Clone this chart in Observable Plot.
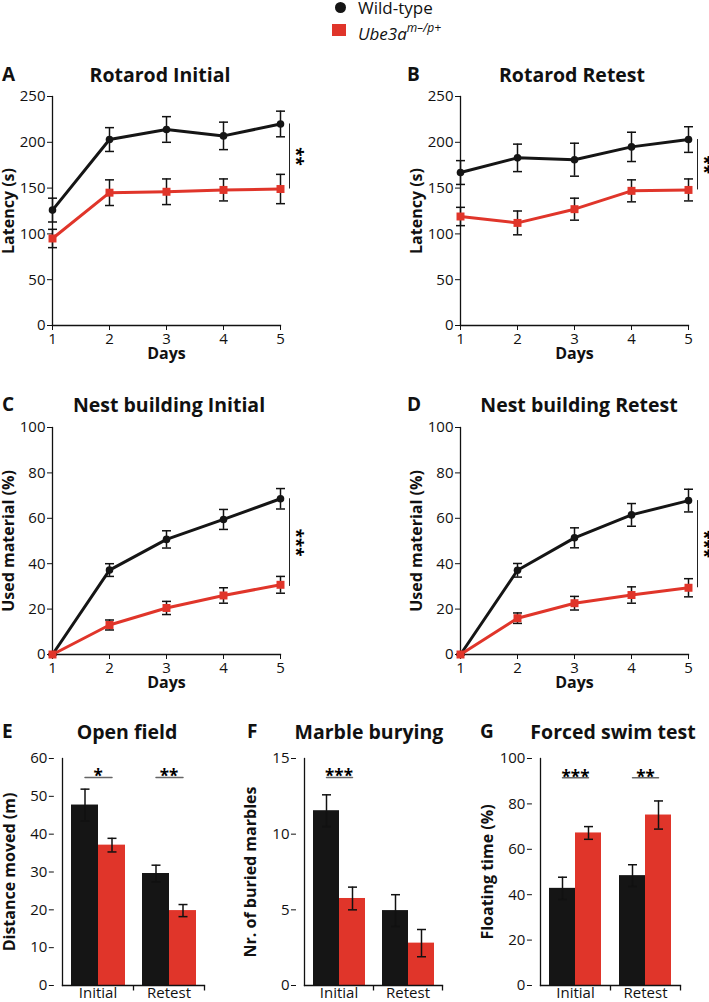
<!DOCTYPE html>
<html><head><meta charset="utf-8">
<script src="https://cdn.jsdelivr.net/npm/d3@7"></script>
<script src="https://cdn.jsdelivr.net/npm/@observablehq/plot@0.6"></script>
<style>
body{margin:0;background:#fff;}
#root{position:relative;width:709px;height:1002px;font-family:"Open Sans",sans-serif;color:#111;overflow:hidden;background:#fff;}
.panel{position:absolute;}
.title{position:absolute;font-weight:bold;font-size:19.5px;transform:translate(-50%,-50%);white-space:nowrap;}
.letter{position:absolute;font-weight:bold;font-size:19px;transform:translateY(-50%);}
.leg{position:absolute;font-size:17px;white-space:nowrap;line-height:20px;}
svg g[aria-label="y-axis label"], svg g[aria-label="x-axis label"]{font-weight:bold;font-size:16px;}
svg g[aria-label="fx-axis tick label"]{font-size:15px;}
</style></head><body><div id="root"></div>
<script>
// ---------- data ----------
const days = [1, 2, 3, 4, 5];
const phases = ["Initial", "Retest"];
const groups = ["Wild-type", "Ube3a"];

// A Rotarod Initial (s)
const rotInitWT = [126, 203, 214, 207, 220];
const rotInitWTerr = [13, 13, 14, 15, 14];
const rotInitUb = [95, 145, 146, 148, 149];
const rotInitUberr = [10, 14, 14, 12, 16];
// B Rotarod Retest (s)
const rotRetWT = [167, 183, 181, 195, 203];
const rotRetWTerr = [13, 15, 18, 16, 14];
const rotRetUb = [119, 112, 127, 147, 148];
const rotRetUberr = [10, 13, 12, 12, 12];
// C Nest building Initial (%)
const nestInitWT = [0, 37.2, 50.7, 59.5, 68.6];
const nestInitWTerr = [0, 2.8, 3.8, 4.4, 4.5];
const nestInitUb = [0, 13, 20.5, 26, 30.7];
const nestInitUberr = [0, 2.2, 2.9, 3.4, 3.7];
// D Nest building Retest (%)
const nestRetWT = [0, 37.1, 51.4, 61.5, 67.8];
const nestRetWTerr = [0, 3, 4.4, 5, 5];
const nestRetUb = [0, 16, 22.6, 26.2, 29.4];
const nestRetUberr = [0, 2.3, 3, 3.6, 4];
// E Open field (m)
const openWT = [47.7, 29.6];
const openWTerr = [4.2, 2.2];
const openUb = [37.1, 19.8];
const openUberr = [1.8, 1.6];
// F Marble burying
const marbleWT = [11.55, 4.95];
const marbleWTerr = [1.05, 1.05];
const marbleUb = [5.75, 2.8];
const marbleUberr = [0.75, 0.9];
// G Forced swim (%)
const swimWT = [42.8, 48.4];
const swimWTerr = [4.9, 4.8];
const swimUb = [67.2, 75.1];
const swimUberr = [2.8, 6.2];

// significance
const sigA = [{day: 5, y1: 220, y2: 149, label: "**"}];
const sigB = [{day: 5, y1: 203, y2: 148, label: "**"}];
const sigC = [{day: 5, y1: 68.6, y2: 30, label: "***"}];
const sigD = [{day: 5, y1: 67.8, y2: 29.4, label: "***"}];
const sigE = [{phase: "Initial", y: 55, label: "*"}, {phase: "Retest", y: 55, label: "**"}];
const sigF = [{phase: "Initial", y: 13.75, label: "***"}];
const sigG = [{phase: "Initial", y: 91.5, label: "***"}, {phase: "Retest", y: 91.5, label: "**"}];

// ---------- styles ----------
const RED = "#e0352a";
const BLK = "#151515";
const FX_OUTER = 0.1143;
const capSym = {draw(ctx, size) { const r = Math.sqrt(size / Math.PI); ctx.moveTo(-r, 0); ctx.lineTo(r, 0); }};
const vTick = {draw(ctx, size) { const r = Math.sqrt(size / Math.PI); ctx.moveTo(0, 0); ctx.lineTo(0, r); }};
const root = document.getElementById("root");
const plotStyle = {fontFamily: "'Open Sans', sans-serif", fontSize: "15px", color: "#111", background: "transparent", overflow: "visible"};

function place(el, left, top) {
  const d = document.createElement("div");
  d.className = "panel"; d.style.left = left + "px"; d.style.top = top + "px";
  d.appendChild(el); root.appendChild(d);
}
function addText(cls, html, left, top) {
  const d = document.createElement("div");
  d.className = cls; d.innerHTML = html; d.style.left = left + "px"; d.style.top = top + "px";
  root.appendChild(d);
}

function linePanel(o) {
  const wt = days.map((d, i) => ({day: d, v: o.wt[i], lo: o.wt[i] - o.wtErr[i], hi: o.wt[i] + o.wtErr[i]}));
  const ub = days.map((d, i) => ({day: d, v: o.ub[i], lo: o.ub[i] - o.ubErr[i], hi: o.ub[i] + o.ubErr[i]}));
  const err = wt.concat(ub);
  const chart = Plot.plot({
    width: o.width, height: o.height,
    marginLeft: o.mL, marginRight: o.mR, marginTop: o.mT, marginBottom: o.mB,
    style: plotStyle,
    x: {domain: [days[0], days[days.length - 1]], ticks: days, tickFormat: d => String(d), tickSize: 5, tickPadding: 3,
        label: "Days", labelAnchor: "center", labelOffset: 33, labelArrow: "none"},
    y: {domain: o.yDomain, ticks: o.yTicks, tickSize: 5, tickPadding: 2,
        label: o.yLabel, labelAnchor: "center", labelOffset: 50, labelArrow: "none"},
    marks: [
      Plot.frame({anchor: "left", stroke: "#111", strokeWidth: 1.3}),
      Plot.frame({anchor: "bottom", stroke: "#111", strokeWidth: 1.3}),
      Plot.line(wt, {x: "day", y: "v", stroke: BLK, strokeWidth: 3}),
      Plot.line(ub, {x: "day", y: "v", stroke: RED, strokeWidth: 3}),
      Plot.ruleX(err, {x: "day", y1: "lo", y2: "hi", stroke: "#111", strokeWidth: 1.5}),
      Plot.dot(err, {x: "day", y: "lo", symbol: capSym, r: 4.5, stroke: "#111", strokeWidth: 1.5}),
      Plot.dot(err, {x: "day", y: "hi", symbol: capSym, r: 4.5, stroke: "#111", strokeWidth: 1.5}),
      Plot.dot(wt, {x: "day", y: "v", r: 3.8, fill: BLK}),
      Plot.dot(ub, {x: "day", y: "v", symbol: "square", r: 4.5, fill: RED}),
      Plot.ruleX(o.sig, {x: "day", y1: "y1", y2: "y2", dx: 9, stroke: "#222", strokeWidth: 1}),
      Plot.text(o.sig, {x: "day", y: d => (d.y1 + d.y2) / 2, text: "label", rotate: 90, dx: 15, fontSize: 17, fontWeight: "bold", fill: "#000"})
    ]
  });
  place(chart, o.left, o.top);
}

function barPanel(o) {
  const rows = [];
  phases.forEach((p, i) => {
    rows.push({phase: p, g: groups[0], v: o.wt[i], lo: o.wt[i] - o.wtErr[i], hi: o.wt[i] + o.wtErr[i]});
    rows.push({phase: p, g: groups[1], v: o.ub[i], lo: o.ub[i] - o.ubErr[i], hi: o.ub[i] + o.ubErr[i]});
  });
  const sigLines = o.sig.flatMap(s => groups.map(g => ({phase: s.phase, g, y: s.y})));
  // outer gap (px) of the facet band scale, used to pull the y axis back to the frame edge
  const frameW = o.width - o.mL - o.mR;
  const outerPx = FX_OUTER * frameW / (2 + 2 * FX_OUTER);
  const chart = Plot.plot({
    width: o.width, height: o.height,
    marginLeft: o.mL, marginRight: o.mR, marginTop: o.mT, marginBottom: o.mB,
    style: plotStyle,
    fx: {domain: phases, paddingInner: 0, paddingOuter: FX_OUTER, axis: "bottom", tickSize: 0, tickPadding: 2, label: null},
    x: {domain: groups, paddingInner: 0, paddingOuter: 0.2963, axis: null},
    y: {domain: o.yDomain},
    color: {domain: groups, range: [BLK, RED]},
    marks: [
      Plot.axisY({ticks: o.yTicks, tickSize: 5, tickPadding: 2, dx: -outerPx,
        label: o.yLabel, labelAnchor: "center", labelOffset: o.labelOffset + outerPx, labelArrow: "none"}),
      Plot.barY(rows, {fx: "phase", x: "g", y: "v", fill: "g"}),
      Plot.frame({anchor: "left", facet: "super", stroke: "#111", strokeWidth: 1.3}),
      Plot.frame({anchor: "bottom", facet: "super", stroke: "#111", strokeWidth: 1.3}),
      Plot.ruleX(rows, {fx: "phase", x: "g", y1: "lo", y2: "hi", stroke: "#111", strokeWidth: 1.5}),
      Plot.dot(rows, {fx: "phase", x: "g", y: "lo", symbol: capSym, r: 4.5, stroke: "#111", strokeWidth: 1.5}),
      Plot.dot(rows, {fx: "phase", x: "g", y: "hi", symbol: capSym, r: 4.5, stroke: "#111", strokeWidth: 1.5}),
      Plot.dot([phases[0]], {fx: d => d, frameAnchor: "bottom-right", symbol: vTick, r: 5, stroke: "#111", strokeWidth: 1.3}),
      Plot.dot([phases[1]], {facet: "super", frameAnchor: "bottom-right", symbol: vTick, r: 5, stroke: "#111", strokeWidth: 1.3}),
      Plot.line(sigLines, {fx: "phase", x: "g", y: "y", z: "phase", stroke: "#666", strokeWidth: 1.5}),
      Plot.text(o.sig, {fx: "phase", y: "y", text: "label", lineAnchor: "bottom", dy: 5, fontSize: 17, fontWeight: "bold", fill: "#000"})
    ]
  });
  place(chart, o.left, o.top);
}

// ---------- legend ----------
addText("leg", '<span style="display:inline-block;width:11px;height:11px;border-radius:50%;background:' + BLK + ';position:absolute;left:-23px;top:4px"></span>Wild-type', 358, -2);
addText("leg", '<span style="display:inline-block;width:14px;height:12px;background:' + RED + ';position:absolute;left:-26px;top:5px"></span><i>Ube3a</i><sup style="font-size:12px;position:relative;top:-1px"><i>m–/p+</i></sup>', 358, 19);

// ---------- titles ----------
addText("letter", "A", 2, 74); addText("title", "Rotarod Initial", 160, 74);
addText("letter", "B", 407, 74); addText("title", "Rotarod Retest", 572, 74);
addText("letter", "C", 2, 404); addText("title", "Nest building Initial", 169, 404);
addText("letter", "D", 407, 404); addText("title", "Nest building Retest", 579, 404);
addText("letter", "E", 2, 731); addText("title", "Open field", 127, 731);
addText("letter", "F", 247, 731); addText("title", "Marble burying", 369, 731);
addText("letter", "G", 480, 731); addText("title", "Forced swim test", 613, 731);

// ---------- panels ----------
linePanel({left: 0, top: 60, width: 340, height: 300, mL: 52, mR: 60, mT: 36, mB: 35,
  yDomain: [0, 250], yTicks: [0, 50, 100, 150, 200, 250], yLabel: "Latency (s)",
  wt: rotInitWT, wtErr: rotInitWTerr, ub: rotInitUb, ubErr: rotInitUberr, sig: sigA});
linePanel({left: 360, top: 60, width: 349, height: 300, mL: 100, mR: 21, mT: 36, mB: 35,
  yDomain: [0, 250], yTicks: [0, 50, 100, 150, 200, 250], yLabel: "Latency (s)",
  wt: rotRetWT, wtErr: rotRetWTerr, ub: rotRetUb, ubErr: rotRetUberr, sig: sigB});
linePanel({left: 0, top: 370, width: 340, height: 320, mL: 52, mR: 60, mT: 57, mB: 36,
  yDomain: [0, 100], yTicks: [0, 20, 40, 60, 80, 100], yLabel: "Used material (%)",
  wt: nestInitWT, wtErr: nestInitWTerr, ub: nestInitUb, ubErr: nestInitUberr, sig: sigC});
linePanel({left: 360, top: 370, width: 349, height: 320, mL: 100, mR: 21, mT: 57, mB: 36,
  yDomain: [0, 100], yTicks: [0, 20, 40, 60, 80, 100], yLabel: "Used material (%)",
  wt: nestRetWT, wtErr: nestRetWTerr, ub: nestRetUb, ubErr: nestRetUberr, sig: sigD});
barPanel({left: 0, top: 700, width: 230, height: 302, mL: 53, mR: 18, mT: 58, mB: 17, labelOffset: 51,
  yDomain: [0, 60], yTicks: [0, 10, 20, 30, 40, 50, 60], yLabel: "Distance moved (m)",
  wt: openWT, wtErr: openWTerr, ub: openUb, ubErr: openUberr, sig: sigE});
barPanel({left: 230, top: 700, width: 230, height: 302, mL: 65, mR: 9, mT: 58, mB: 17, labelOffset: 52,
  yDomain: [0, 15], yTicks: [0, 5, 10, 15], yLabel: "Nr. of buried marbles",
  wt: marbleWT, wtErr: marbleWTerr, ub: marbleUb, ubErr: marbleUberr, sig: sigF});
barPanel({left: 460, top: 700, width: 249, height: 302, mL: 71, mR: 21, mT: 58, mB: 17, labelOffset: 51,
  yDomain: [0, 100], yTicks: [0, 20, 40, 60, 80, 100], yLabel: "Floating time (%)",
  wt: swimWT, wtErr: swimWTerr, ub: swimUb, ubErr: swimUberr, sig: sigG});
</script></body></html>
